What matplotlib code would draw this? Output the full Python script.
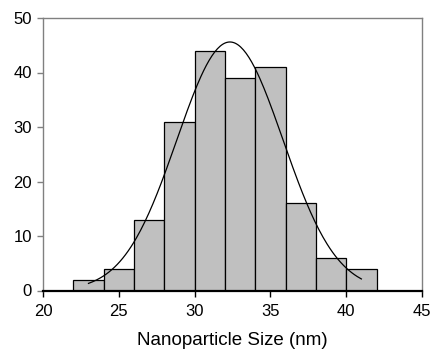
import numpy as np
from matplotlib import pyplot as plt

# histogram bins (left edges, nm) and counts
bin_left = [22, 24, 26, 28, 30, 32, 34, 36, 38, 40]
counts = [2, 4, 13, 31, 44, 39, 41, 16, 6, 4]
bin_width = 2

# normal fit: mean, std dev, peak height, drawn range
fit_mean = 32.33
fit_std = 3.5
fit_peak = 45.6
fit_range = [23, 41]

x_ticks = [20, 25, 30, 35, 40, 45]
y_ticks = [0, 10, 20, 30, 40, 50]

plt.rcParams['font.family'] = ['Liberation Sans', 'DejaVu Sans']

fig = plt.figure(figsize=(4.36, 3.56), dpi=100)
ax = fig.add_axes([43 / 436, 1 - 290.5 / 356, (422 - 43) / 436, (290.5 - 18) / 356])

ax.bar(bin_left, counts, width=bin_width, align='edge',
       color='#c0c0c0', edgecolor='black', linewidth=0.9, zorder=2)

xs = np.linspace(fit_range[0], fit_range[1], 200)
ys = fit_peak * np.exp(-(xs - fit_mean) ** 2 / (2 * fit_std ** 2))
ax.plot(xs, ys, color='black', linewidth=0.9, zorder=3)

ax.set_xlim(20, 45)
ax.set_ylim(0, 50)
ax.set_xticks(x_ticks)
ax.set_yticks(y_ticks)
ax.tick_params(labelsize=12, length=4, width=1, pad=6)
ax.tick_params(axis='y', colors='#808080', labelcolor='black', pad=4)

for side in ['left', 'top', 'right']:
    ax.spines[side].set_color('#808080')
    ax.spines[side].set_linewidth(1)
ax.spines['bottom'].set_color('black')
ax.spines['bottom'].set_linewidth(1.6)
ax.spines['bottom'].set_zorder(4)

ax.set_xlabel('Nanoparticle Size (nm)', fontsize=13.5, labelpad=9)

fig.savefig('out.png', dpi=100)
